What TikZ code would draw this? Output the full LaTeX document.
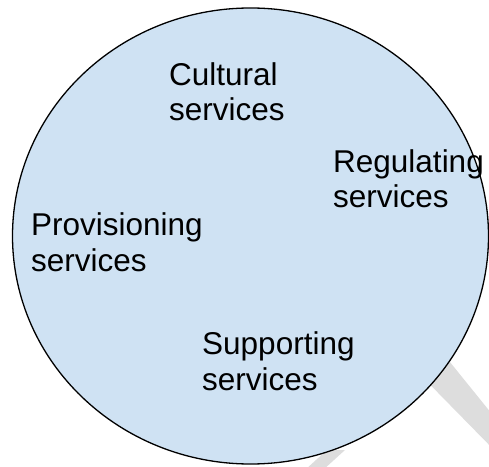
\documentclass[tikz,border=0pt]{standalone}
\usepackage{fontspec}
\setmainfont{Liberation Sans}
\definecolor{lensblue}{HTML}{CFE2F3}
\definecolor{handlegray}{HTML}{DDDDDD}
\begin{document}
\begin{tikzpicture}[x=1pt,y=1pt,
  label/.style={anchor=base west,inner sep=0pt,align=left,
    font=\fontsize{31.5}{35.5}\selectfont},
  handle/.style={fill=handlegray,draw=none}]
\useasboundingbox (0,0) rectangle (489,466);
% handle pieces behind the lens
\fill[handle] (420,141) -- (500,42) -- (500,10) -- (400,112) -- cycle;
\fill[handle] (305,-4) -- (323,-4) -- (345,16) -- (327,16) -- cycle;
% lens
\draw[fill=lensblue,line width=1.3pt] (250.5,230) ellipse [x radius=238, y radius=228];
% labels (base anchor sits on the last line)
\node[label] (cult) at (169,345) {Cultural\\services};
\node[label] (reg)  at (333,258) {Regulating\\services};
\node[label] (prov) at (31,195)  {Provisioning\\services};
\node[label] (supp) at (202,76)  {Supporting\\services};
\end{tikzpicture}
\end{document}
